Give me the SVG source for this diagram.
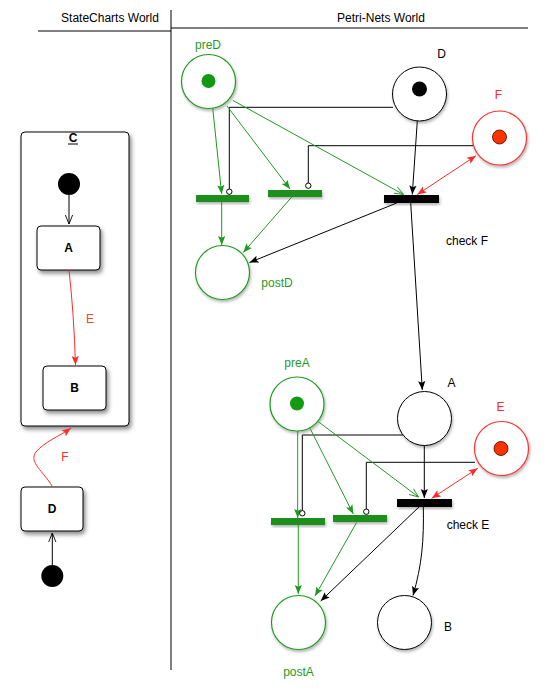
<svg xmlns="http://www.w3.org/2000/svg" width="548" height="688" viewBox="0 0 548 688">
<style>
text{font-family:"Liberation Sans",Arial,sans-serif;font-size:12px}
.lbl{text-anchor:middle}
.g{fill:#1f9a1f}
.r{fill:#ff2a2a}
.b{font-weight:bold;font-size:12px;text-anchor:middle}
.box{fill:#fff;stroke:#000;stroke-width:1;filter:url(#sh)}
.pl{fill:#fff;stroke:#000;stroke-width:1;filter:url(#sh2)}
.plg{fill:#fff;stroke:#1f9a1f;stroke-width:1.2;filter:url(#sh2)}
.plr{fill:#fff;stroke:#ff3030;stroke-width:1.2;filter:url(#sh2)}
.ln{fill:none;stroke:#000;stroke-width:1}
.lg{fill:none;stroke:#1f9a1f;stroke-width:1}
.lr{fill:none;stroke:#ff2a2a;stroke-width:1}
.inh{fill:#fff;stroke:#000;stroke-width:1}
</style>
<defs>
<filter id="sh" x="-20%" y="-20%" width="150%" height="150%"><feDropShadow dx="2" dy="3" stdDeviation="2" flood-color="#000" flood-opacity="0.45"/></filter>
<filter id="sh2" x="-20%" y="-20%" width="150%" height="150%"><feDropShadow dx="1" dy="2" stdDeviation="1.5" flood-color="#000" flood-opacity="0.3"/></filter>
<marker id="ab" viewBox="0 0 10 10" refX="10" refY="5" markerWidth="10" markerHeight="9" orient="auto-start-reverse" markerUnits="userSpaceOnUse"><path d="M0,1 L10,5 L0,9 L2,5 z" fill="#000"/></marker>
<marker id="ag" viewBox="0 0 10 10" refX="10" refY="5" markerWidth="10" markerHeight="9" orient="auto-start-reverse" markerUnits="userSpaceOnUse"><path d="M0,1 L10,5 L0,9 L2,5 z" fill="#1f9a1f"/></marker>
<marker id="ar" viewBox="0 0 10 10" refX="10" refY="5" markerWidth="10" markerHeight="9" orient="auto-start-reverse" markerUnits="userSpaceOnUse"><path d="M0,1 L10,5 L0,9 L2,5 z" fill="#ff2a2a"/></marker>
<marker id="ao" viewBox="0 0 10 10" refX="10" refY="5" markerWidth="10" markerHeight="9" orient="auto" markerUnits="userSpaceOnUse"><path d="M0,1 L10,5 L0,9" fill="none" stroke="#000" stroke-width="1"/></marker>
<marker id="aog" viewBox="0 0 10 10" refX="10" refY="5" markerWidth="10" markerHeight="9" orient="auto" markerUnits="userSpaceOnUse"><path d="M0,1 L10,5 L0,9" fill="none" stroke="#1f9a1f" stroke-width="1"/></marker>
</defs>

<g id="frame">
<line x1="171" y1="10" x2="171" y2="670" stroke="#000" stroke-width="1"/>
<line x1="38" y1="31" x2="171" y2="31" stroke="#000" stroke-width="1"/>
<line x1="171" y1="28" x2="528" y2="28" stroke="#000" stroke-width="1"/>
<text x="110" y="22" class="lbl">StateCharts World</text>
<text x="381" y="22" class="lbl">Petri-Nets World</text>
</g>

<!-- Statecharts -->
<g id="stateC">
<rect x="21" y="132" width="108" height="294" rx="4" class="box"/>
<text x="73" y="142" class="b">C</text>
<line x1="68" y1="144" x2="78" y2="144" stroke="#000" stroke-width="1"/>
</g>
<g id="initC"><circle cx="69" cy="184" r="11" fill="#000"/></g>
<g id="stateA"><rect x="37" y="226" width="63" height="44" rx="4" class="box"/><text x="68.5" y="252" class="b">A</text></g>
<g id="stateB"><rect x="43" y="366" width="63" height="44" rx="4" class="box"/><text x="74.5" y="392" class="b">B</text></g>
<g id="stateD"><rect x="21" y="487" width="62" height="44" rx="4" class="box"/><text x="52" y="513" class="b">D</text></g>
<g id="initD"><circle cx="52.3" cy="576" r="11" fill="#000"/></g>

<g id="sc-connectors">
<line x1="69" y1="195" x2="69" y2="224" class="ln" marker-end="url(#ao)"/>
<path d="M69,270 Q74,315 75.5,365" class="lr" marker-end="url(#ar)"/>
<text x="90" y="323" class="lbl" fill="#e04a2a">E</text>
<path d="M52,486 C44,472 28,462 36,452 C44,442 60,436 71,428" class="lr" marker-end="url(#ar)"/>
<text x="65" y="461" class="lbl r">F</text>
<line x1="52.3" y1="565" x2="52.3" y2="533" class="ln" marker-end="url(#ao)"/>
</g>

<!-- Petri net places -->
<g id="preD"><circle cx="208.5" cy="81.5" r="27" class="plg"/><circle cx="208.5" cy="81" r="7" fill="#139a13"/><text x="208" y="49" class="lbl g">preD</text></g>
<g id="D"><circle cx="419.5" cy="94" r="27" class="pl"/><circle cx="419.5" cy="89" r="7.5" fill="#000"/><text x="441.5" y="58" class="lbl">D</text></g>
<g id="F"><circle cx="499.5" cy="138" r="27" class="plr"/><circle cx="499.5" cy="137" r="7" fill="#ff3300" stroke="#400" stroke-width="0.8"/><text x="498.5" y="99" class="lbl r">F</text></g>
<g id="postD"><circle cx="222.5" cy="272.5" r="27" class="plg"/><text x="277" y="287" class="lbl g">postD</text></g>

<g id="preA"><circle cx="297" cy="404" r="27" class="plg"/><circle cx="297" cy="403.5" r="7" fill="#139a13"/><text x="297" y="367" class="lbl g">preA</text></g>
<g id="A"><circle cx="424.5" cy="418.5" r="27" class="pl"/><text x="451.5" y="387" class="lbl">A</text></g>
<g id="E"><circle cx="501.5" cy="448.5" r="27" class="plr"/><circle cx="501" cy="448.5" r="7" fill="#ff3300" stroke="#400" stroke-width="0.8"/><text x="500.5" y="411" class="lbl r">E</text></g>
<g id="postA"><circle cx="298.5" cy="622.5" r="27" class="plg"/><text x="298.5" y="676" class="lbl g">postA</text></g>
<g id="B"><circle cx="404.5" cy="622.5" r="27" class="pl"/><text x="448" y="631" class="lbl">B</text></g>

<!-- Transitions -->
<g id="t1"><rect x="196" y="195" width="53" height="7" fill="#1a8f1a" filter="url(#sh2)"/></g>
<g id="t2"><rect x="268" y="190" width="54" height="7" fill="#1a8f1a" filter="url(#sh2)"/></g>
<g id="checkF"><rect x="384" y="195" width="55" height="8" fill="#000" filter="url(#sh2)"/><text x="467" y="245" class="lbl">check F</text></g>
<g id="t4"><rect x="271" y="518" width="54" height="7" fill="#1a8f1a" filter="url(#sh2)"/></g>
<g id="t5"><rect x="333" y="515" width="54" height="7" fill="#1a8f1a" filter="url(#sh2)"/></g>
<g id="checkE"><rect x="397" y="499" width="55" height="8" fill="#000" filter="url(#sh2)"/><text x="468" y="529" class="lbl">check E</text></g>

<g id="pn-connectors">
<!-- top -->
<line x1="212.7" y1="108" x2="221.7" y2="194" class="lg" marker-end="url(#ag)"/>
<polyline points="393,107.3 229.3,107.3 229.3,189" class="ln"/>
<circle cx="229.3" cy="191.7" r="2.7" class="inh"/>
<line x1="227" y1="106" x2="290" y2="189" class="lg" marker-end="url(#ag)"/>
<polyline points="473,145.7 308.3,145.7 308.3,183" class="ln"/>
<circle cx="308.3" cy="185.7" r="2.7" class="inh"/>
<line x1="233" y1="100.5" x2="403.5" y2="194.5" class="lg" marker-end="url(#aog)"/>
<line x1="417.3" y1="121" x2="412.3" y2="194.5" class="ln" marker-end="url(#ab)"/>
<line x1="476" y1="155.7" x2="417.3" y2="194.5" class="lr" marker-start="url(#ar)" marker-end="url(#ar)"/>
<line x1="221.7" y1="202" x2="221.7" y2="245" class="lg" marker-end="url(#ag)"/>
<line x1="291.7" y1="197" x2="243.3" y2="252.5" class="lg" marker-end="url(#ag)"/>
<line x1="396.7" y1="203" x2="249.5" y2="262.5" class="ln" marker-end="url(#ab)"/>
<line x1="410.7" y1="203" x2="422.3" y2="390" class="ln" marker-end="url(#ab)"/>
<!-- bottom -->
<line x1="297.7" y1="431" x2="297.7" y2="518" class="lg" marker-end="url(#ag)"/>
<polyline points="403,435 302.3,435 302.3,511" class="ln"/>
<circle cx="302.3" cy="513.3" r="2.7" class="inh"/>
<line x1="310" y1="428.3" x2="353.3" y2="514" class="lg" marker-end="url(#ag)"/>
<polyline points="475,462.3 366.3,462.3 366.3,509" class="ln"/>
<circle cx="366.3" cy="511.7" r="2.7" class="inh"/>
<line x1="318.3" y1="421.7" x2="418.5" y2="497" class="lg" marker-end="url(#aog)"/>
<line x1="424.3" y1="445.5" x2="424.3" y2="498" class="ln" marker-end="url(#ab)"/>
<line x1="477.7" y1="468.3" x2="431.7" y2="498.3" class="lr" marker-start="url(#ar)" marker-end="url(#ar)"/>
<line x1="298.3" y1="525" x2="298.3" y2="594" class="lg" marker-end="url(#ag)"/>
<line x1="356.7" y1="522.3" x2="315" y2="596" class="lg" marker-end="url(#ag)"/>
<line x1="419.3" y1="506.7" x2="320.7" y2="601" class="ln" marker-end="url(#ab)"/>
<path d="M423.3,506.7 C424,540 422,565 413,595.5" class="ln" marker-end="url(#ab)"/>
</g>
</svg>
